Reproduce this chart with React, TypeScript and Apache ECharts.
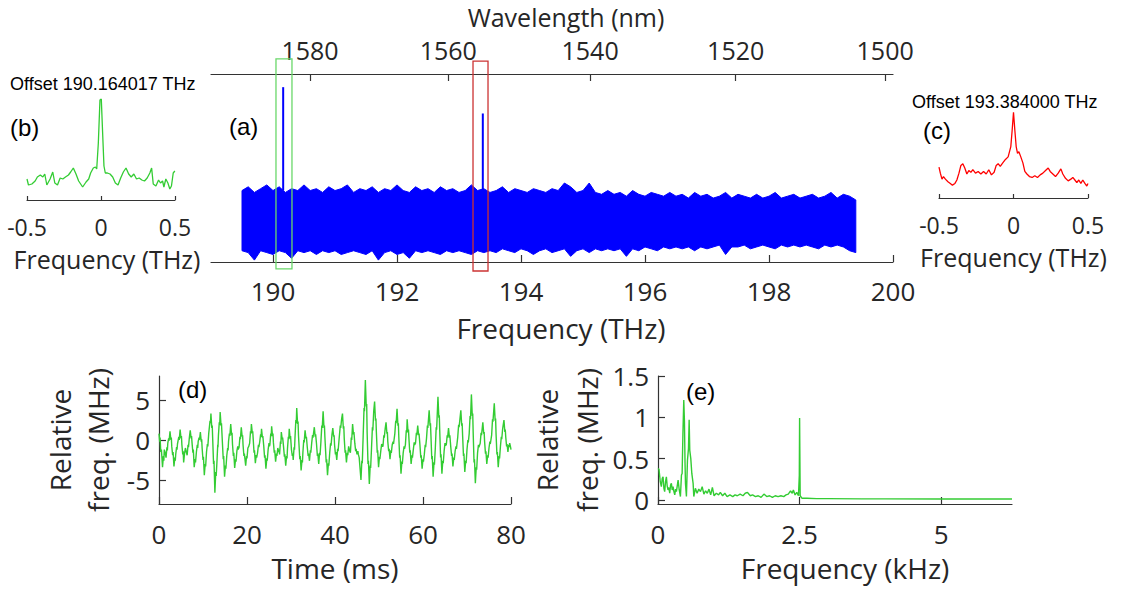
import React, { useEffect, useRef } from "react";
import * as echarts from "echarts";

// speed of light, nm * THz
const C_NM_THZ = 299792.458;

// ---------- (a) comb spectrum (envelope of the dense trace) ----------
const bandStartTHz = 189.5;
const bandStepTHz = 0.1;
const bandUpper = [
  0.38, 0.40, 0.37, 0.39, 0.41, 0.38, 0.40, 0.37, 0.39, 0.38,
  0.41, 0.38, 0.39, 0.37, 0.40, 0.38, 0.39, 0.41, 0.37, 0.39,
  0.38, 0.40, 0.37, 0.39, 0.38, 0.41, 0.38, 0.37, 0.40, 0.38,
  0.39, 0.37, 0.40, 0.38, 0.39, 0.37, 0.38, 0.41, 0.38, 0.39,
  0.37, 0.38, 0.40, 0.37, 0.39, 0.38, 0.37, 0.39, 0.38, 0.37,
  0.39, 0.38, 0.42, 0.40, 0.37, 0.38, 0.42, 0.37, 0.36, 0.38,
  0.36, 0.37, 0.35, 0.38, 0.36, 0.35, 0.37, 0.36, 0.35, 0.37,
  0.35, 0.36, 0.34, 0.37, 0.35, 0.36, 0.34, 0.35, 0.37, 0.34,
  0.36, 0.35, 0.34, 0.36, 0.34, 0.35, 0.37, 0.34, 0.35, 0.36,
  0.34, 0.35, 0.36, 0.34, 0.35, 0.37, 0.34, 0.36, 0.35, 0.33,
];
const bandLower = [
  0.06, 0.05, 0.01, 0.06, 0.05, 0.04, 0.06, 0.05, 0.02, 0.06,
  0.05, 0.06, 0.04, 0.06, 0.05, 0.06, 0.04, 0.05, 0.06, 0.05,
  0.04, 0.06, 0.01, 0.05, 0.06, 0.04, 0.05, 0.02, 0.06, 0.05,
  0.06, 0.05, 0.04, 0.06, 0.05, 0.06, 0.05, 0.04, 0.06, 0.05,
  0.06, 0.05, 0.07, 0.06, 0.05, 0.07, 0.06, 0.04, 0.06, 0.07,
  0.05, 0.06, 0.07, 0.03, 0.06, 0.07, 0.05, 0.07, 0.06, 0.07,
  0.06, 0.07, 0.03, 0.07, 0.06, 0.08, 0.07, 0.06, 0.08, 0.07,
  0.08, 0.07, 0.08, 0.06, 0.08, 0.07, 0.08, 0.09, 0.04, 0.08,
  0.08, 0.09, 0.07, 0.08, 0.09, 0.08, 0.07, 0.09, 0.08, 0.09,
  0.08, 0.09, 0.08, 0.07, 0.09, 0.08, 0.09, 0.08, 0.06, 0.05,
];
const lineFreqs = [190.164017, 193.384];
const lineBase = [0.38, 0.38];
const linePeaks = [0.93, 0.79];
// boxes: [fMin, fMax, yMin, yMax]
const greenBox = [190.048, 190.306, -0.037, 1.08];
const redBox = [193.226, 193.468, -0.048, 1.069];
const freqTicks = [190, 192, 194, 196, 198, 200];
const wavelengthTicks = [1580, 1560, 1540, 1520, 1500];

// ---------- (b) ----------
const bTrace: [number, number][] = [
  [-0.5, 0.21], [-0.49, 0.15], [-0.467, 0.16], [-0.445, 0.19], [-0.43, 0.23], [-0.41, 0.25],
  [-0.393, 0.23], [-0.38, 0.26], [-0.366, 0.15], [-0.344, 0.21], [-0.326, 0.28], [-0.312, 0.17],
  [-0.294, 0.15], [-0.276, 0.22], [-0.258, 0.21], [-0.24, 0.23], [-0.22, 0.25], [-0.205, 0.28],
  [-0.187, 0.32], [-0.169, 0.26], [-0.151, 0.19], [-0.124, 0.13], [-0.101, 0.18], [-0.083, 0.21],
  [-0.07, 0.27], [-0.052, 0.32], [-0.038, 0.33], [-0.029, 0.31], [-0.018, 0.57], [-0.007, 1.0],
  [0.002, 1.01], [0.011, 0.67], [0.02, 0.34], [0.029, 0.27], [0.043, 0.27], [0.061, 0.26],
  [0.079, 0.23], [0.097, 0.17], [0.115, 0.15], [0.133, 0.22], [0.151, 0.28], [0.169, 0.32],
  [0.187, 0.26], [0.204, 0.23], [0.222, 0.26], [0.24, 0.21], [0.258, 0.22], [0.276, 0.2],
  [0.294, 0.19], [0.312, 0.22], [0.33, 0.27], [0.342, 0.32], [0.353, 0.16], [0.371, 0.14],
  [0.389, 0.2], [0.402, 0.17], [0.416, 0.19], [0.425, 0.13], [0.438, 0.21], [0.452, 0.17],
  [0.465, 0.11], [0.476, 0.14], [0.488, 0.27], [0.499, 0.29],
];

// ---------- (c) ----------
const cTrace: [number, number][] = [
  [-0.5, 0.36], [-0.491, 0.29], [-0.48, 0.22], [-0.47, 0.25], [-0.457, 0.22], [-0.44, 0.19],
  [-0.424, 0.17], [-0.41, 0.15], [-0.393, 0.17], [-0.38, 0.21], [-0.366, 0.29], [-0.353, 0.38],
  [-0.34, 0.4], [-0.327, 0.35], [-0.313, 0.28], [-0.3, 0.32], [-0.286, 0.3], [-0.273, 0.33],
  [-0.255, 0.29], [-0.237, 0.31], [-0.219, 0.28], [-0.201, 0.31], [-0.183, 0.28], [-0.166, 0.33],
  [-0.148, 0.27], [-0.13, 0.3], [-0.116, 0.38], [-0.103, 0.4], [-0.089, 0.37], [-0.072, 0.41],
  [-0.054, 0.45], [-0.036, 0.48], [-0.018, 0.6], [-0.009, 0.79], [0, 1.0], [0.009, 0.79],
  [0.018, 0.6], [0.027, 0.52], [0.036, 0.54], [0.049, 0.48], [0.063, 0.41], [0.076, 0.31],
  [0.09, 0.28], [0.107, 0.25], [0.125, 0.24], [0.143, 0.26], [0.161, 0.24], [0.179, 0.27],
  [0.197, 0.29], [0.215, 0.32], [0.233, 0.35], [0.246, 0.31], [0.264, 0.28], [0.282, 0.25],
  [0.3, 0.29], [0.318, 0.34], [0.331, 0.28], [0.349, 0.23], [0.367, 0.2], [0.385, 0.22],
  [0.398, 0.24], [0.412, 0.21], [0.425, 0.18], [0.438, 0.21], [0.452, 0.17], [0.465, 0.21],
  [0.479, 0.17], [0.492, 0.14], [0.5, 0.17],
];

// ---------- (d) relative frequency vs time: [ms, MHz] ----------
const dTrace: [number, number][] = [
  [0.0, 0.8], [0.15, -0.2], [0.25, 0.3], [0.4, -1.5], [0.55, -1.2], [0.8, -3.4], [1.0, -2.0], [1.1, -2.6],
  [1.2, -1.2], [1.4, -1.6], [1.6, -2.2], [1.8, -0.9], [1.9, -1.3], [2.0, -0.4], [2.2, 0.2], [2.3, -0.1],
  [2.5, 1.1], [2.7, 0.0], [2.8, 0.3], [2.9, -0.8], [3.1, -1.9], [3.2, -1.5], [3.4, -3.3], [3.6, -2.2],
  [3.7, -2.6], [3.8, -1.8], [4.0, -0.9], [4.1, -1.2], [4.2, -0.5], [4.5, 0.4], [4.6, 0.0], [4.8, 1.3],
  [5.0, 0.2], [5.1, 0.5], [5.2, -0.6], [5.4, -1.8], [5.5, -1.4], [5.6, -2.8], [5.8, -1.7], [6.0, -1.0],
  [6.2, -1.5], [6.4, -1.9], [6.6, -0.6], [6.7, -0.9], [6.9, 0.3], [7.1, 1.2], [7.3, 0.2], [7.4, 0.5],
  [7.5, -0.3], [7.7, -1.6], [7.8, -1.2], [8.0, -3.4], [8.2, -2.4], [8.3, -2.8], [8.5, -1.5], [8.7, -0.6],
  [8.8, -1.0], [8.9, -0.2], [9.1, 0.3], [9.2, 0.0], [9.4, 1.0], [9.6, -0.2], [9.7, 0.1], [9.8, -1.0],
  [10.0, -2.5], [10.1, -2.1], [10.3, -4.4], [10.5, -3.0], [10.6, -3.3], [10.8, -1.5], [11.0, -0.5], [11.1, -0.8],
  [11.3, 0.8], [11.6, 2.4], [11.7, 2.1], [11.8, 3.3], [12.0, 1.5], [12.1, 1.8], [12.2, 0.2], [12.4, -3.0],
  [12.5, -2.6], [12.7, -6.6], [12.9, -4.0], [13.0, -4.5], [13.2, -2.4], [13.35, -0.6], [13.4, -0.9], [13.5, 0.5],
  [13.7, 2.2], [13.8, 1.9], [13.9, 3.5], [14.1, 1.8], [14.2, 2.1], [14.3, 0.9], [14.6, -2.4], [14.7, -2.0],
  [14.9, -4.6], [15.1, -3.2], [15.2, -3.6], [15.4, -2.0], [15.6, -1.0], [15.7, -1.3], [15.8, -0.2], [16.0, 0.8],
  [16.1, 0.5], [16.3, 2.0], [16.5, 0.6], [16.6, 0.9], [16.7, -0.5], [16.9, -2.0], [17.0, -1.6], [17.2, -3.5],
  [17.4, -2.4], [17.5, -2.7], [17.7, -1.4], [17.9, -0.8], [18.0, -1.2], [18.2, -0.9], [18.4, 0.4], [18.5, 0.1],
  [18.7, 1.6], [18.9, 0.4], [19.0, 0.6], [19.1, -0.6], [19.3, -2.0], [19.4, -1.7], [19.7, -3.2], [19.9, -2.0],
  [20.0, -2.3], [20.2, -1.0], [20.4, -0.8], [20.6, -0.4], [20.8, 1.1], [20.9, 0.8], [21.0, 2.0], [21.2, 0.9],
  [21.3, 1.1], [21.4, 0.2], [21.6, -1.6], [21.7, -1.3], [21.9, -2.9], [22.1, -1.9], [22.2, -2.2], [22.4, -1.6],
  [22.6, -0.6], [22.7, -0.9], [22.9, -0.2], [23.1, 0.7], [23.2, 0.4], [23.3, 1.4], [23.5, 0.3], [23.6, 0.5],
  [23.8, -0.7], [24.0, -2.2], [24.1, -1.9], [24.3, -3.6], [24.5, -2.3], [24.6, -2.6], [24.8, -1.2], [25.0, -0.4],
  [25.1, -0.8], [25.2, -0.6], [25.4, 0.8], [25.5, 0.5], [25.6, 1.7], [25.8, 0.5], [25.9, 0.8], [26.0, -0.3],
  [26.2, -1.6], [26.3, -1.3], [26.5, -2.7], [26.7, -1.7], [26.8, -2.0], [27.0, -1.0], [27.2, -1.5], [27.3, -1.2],
  [27.4, -1.8], [27.6, -0.2], [27.7, -0.5], [27.8, 1.0], [28.0, 0.1], [28.1, 0.3], [28.3, -0.8], [28.5, -2.1],
  [28.6, -1.8], [28.8, -3.2], [29.0, -2.0], [29.1, -2.3], [29.2, -1.1], [29.4, 0.4], [29.5, 0.1], [29.6, 1.4],
  [29.8, 0.2], [29.9, 0.5], [30.1, -1.2], [30.3, -2.0], [30.4, -1.7], [30.5, -2.5], [30.7, -0.9], [30.8, -1.2],
  [30.9, 0.2], [31.1, 2.5], [31.2, 2.1], [31.3, 4.0], [31.5, 2.0], [31.6, 2.3], [31.7, 0.6], [32.0, -2.4],
  [32.1, -2.0], [32.3, -3.8], [32.5, -2.5], [32.6, -2.8], [32.7, -1.6], [32.9, 0.0], [33.0, -0.3], [33.2, 1.2],
  [33.4, 0.2], [33.5, 0.4], [33.7, -0.9], [33.9, -2.0], [34.0, -1.7], [34.2, -2.6], [34.4, -1.3], [34.5, -1.6],
  [34.7, -0.4], [34.9, 0.6], [35.0, 0.3], [35.3, 1.6], [35.5, 0.4], [35.6, 0.7], [35.8, -0.5], [36.0, -2.0],
  [36.1, -1.7], [36.3, -3.0], [36.5, -1.6], [36.6, -1.9], [36.8, -0.2], [37.0, 1.8], [37.1, 1.5], [37.3, 3.6],
  [37.5, 1.5], [37.6, 1.8], [37.7, 0.4], [38.0, -2.8], [38.1, -2.4], [38.3, -4.4], [38.5, -2.9], [38.6, -3.2],
  [38.8, -1.6], [39.0, -0.4], [39.1, -0.7], [39.3, 0.6], [39.5, 1.5], [39.7, 0.4], [39.8, 0.6], [39.9, -0.6],
  [40.1, -1.8], [40.2, -1.5], [40.4, -2.5], [40.6, -1.1], [40.7, -1.4], [40.9, -0.1], [41.2, 1.8], [41.3, 1.5],
  [41.5, 2.6], [41.7, 3.3], [41.9, 1.4], [42.0, 1.7], [42.1, 0.2], [42.3, -1.6], [42.4, -1.3], [42.6, -2.8],
  [42.8, -1.6], [42.9, -1.9], [43.1, -0.8], [43.3, -1.3], [43.5, -1.6], [43.7, 0.3], [43.8, 0.0], [44.0, 2.0],
  [44.2, 0.7], [44.3, 1.0], [44.5, -0.4], [44.7, -1.4], [44.8, -1.1], [45.0, -1.8], [45.2, -1.4], [45.3, -1.8],
  [45.5, -2.2], [45.7, -3.6], [45.9, -5.0], [46.1, -2.6], [46.2, -2.9], [46.4, 0.5], [46.6, 4.0], [46.7, 3.6],
  [46.9, 7.5], [47.1, 4.2], [47.2, 4.5], [47.3, 1.0], [47.5, -3.0], [47.6, -2.6], [47.8, -5.5], [48.0, -3.2],
  [48.1, -3.5], [48.3, -1.0], [48.5, 1.6], [48.6, 1.2], [48.8, 3.6], [49.0, 4.8], [49.2, 2.4], [49.3, 2.7],
  [49.4, 1.0], [49.6, -1.6], [49.7, -1.3], [49.9, -3.4], [50.1, -2.1], [50.2, -2.4], [50.4, -1.4], [50.6, -0.5],
  [50.7, -0.8], [50.9, -0.8], [51.1, 0.6], [51.2, 0.3], [51.4, 1.4], [51.6, 2.2], [51.8, 0.8], [51.9, 1.0],
  [52.0, -0.2], [52.2, -1.4], [52.3, -1.1], [52.5, -2.4], [52.7, -1.3], [52.8, -1.6], [53.0, -0.6], [53.2, -0.2],
  [53.3, -0.5], [53.6, 0.8], [53.8, 2.4], [53.9, 2.1], [54.1, 3.9], [54.3, 1.8], [54.4, 2.1], [54.5, 0.4],
  [54.7, -2.2], [54.8, -1.9], [55.0, -4.2], [55.2, -2.7], [55.3, -3.0], [55.5, -1.6], [55.7, -0.8], [55.8, -1.1],
  [56.0, -0.6], [56.2, 1.2], [56.3, 0.9], [56.4, 2.6], [56.6, 1.0], [56.7, 1.3], [56.8, 0.2], [57.0, -1.6],
  [57.1, -1.3], [57.3, -3.0], [57.5, -1.9], [57.6, -2.2], [57.8, -1.2], [58.0, -0.3], [58.1, -0.6], [58.3, -0.4],
  [58.5, 0.9], [58.6, 0.6], [58.8, 1.8], [59.0, 0.6], [59.1, 0.8], [59.3, -0.6], [59.5, -2.2], [59.6, -1.9],
  [59.8, -3.6], [60.0, -2.4], [60.1, -2.7], [60.3, -1.8], [60.5, -0.6], [60.6, -0.9], [60.8, 0.2], [61.0, 1.8],
  [61.1, 1.5], [61.4, 3.7], [61.6, 1.8], [61.7, 2.1], [61.8, 0.6], [62.0, -2.4], [62.1, -2.0], [62.3, -4.6],
  [62.5, -2.8], [62.6, -3.1], [62.8, -1.0], [63.0, 1.6], [63.1, 1.3], [63.4, 5.4], [63.6, 2.8], [63.7, 3.1],
  [63.8, 1.2], [64.0, -2.2], [64.1, -1.8], [64.3, -4.2], [64.5, -2.6], [64.6, -2.9], [64.8, -1.4], [65.0, -0.4],
  [65.1, -0.7], [65.3, -0.6], [65.5, 0.6], [65.6, 0.3], [65.8, 1.5], [66.0, 0.3], [66.1, 0.6], [66.3, -0.8],
  [66.5, -2.0], [66.6, -1.7], [66.8, -3.3], [67.0, -2.2], [67.1, -2.5], [67.3, -1.4], [67.5, -0.8], [67.6, -1.1],
  [67.9, 0.4], [68.1, 1.9], [68.2, 1.6], [68.6, 3.7], [68.8, 1.8], [68.9, 2.1], [69.0, 0.6], [69.2, -2.0],
  [69.3, -1.7], [69.5, -4.0], [69.7, -2.6], [69.8, -2.9], [70.0, -1.2], [70.2, 0.0], [70.3, -0.3], [70.5, 0.8],
  [70.7, 3.0], [70.8, 2.6], [71.0, 5.7], [71.2, 3.0], [71.3, 3.3], [71.4, 1.0], [71.6, -2.8], [71.7, -2.4],
  [71.9, -5.4], [72.1, -3.4], [72.2, -3.7], [72.4, -1.6], [72.6, -0.6], [72.7, -0.9], [73.0, -0.4], [73.2, 0.9],
  [73.3, 0.6], [73.6, 2.2], [73.8, 0.8], [73.9, 1.0], [74.0, -0.2], [74.2, -1.7], [74.3, -1.4], [74.5, -3.0],
  [74.7, -1.9], [74.8, -2.2], [75.0, -1.0], [75.2, -0.2], [75.3, -0.5], [75.6, 0.6], [75.8, 2.6], [75.9, 2.3],
  [76.2, 4.6], [76.4, 2.4], [76.5, 2.7], [76.6, 0.8], [76.8, -1.8], [76.9, -1.5], [77.1, -3.4], [77.3, -2.0],
  [77.4, -2.3], [77.6, -0.8], [77.8, 0.4], [77.9, 0.1], [78.1, 1.4], [78.4, 2.5], [78.6, 1.0], [78.7, 1.3],
  [78.8, 0.4], [79.0, -0.8], [79.1, -0.5], [79.3, -1.5], [79.5, -0.6], [79.6, -0.9], [79.7, -0.4], [79.9, -0.9],
  [80.0, -1.2],
];

// ---------- (e) spectrum of relative frequency: [kHz, MHz] ----------
const eTrace: [number, number][] = [
  [0.0, 0.38], [0.018, 0.37], [0.04, 0.22], [0.059, 0.16], [0.075, 0.26], [0.089, 0.28],
  [0.104, 0.14], [0.118, 0.1], [0.133, 0.22], [0.148, 0.28], [0.162, 0.17], [0.177, 0.12],
  [0.192, 0.15], [0.207, 0.08], [0.222, 0.18], [0.236, 0.2], [0.251, 0.12], [0.266, 0.16],
  [0.281, 0.1], [0.296, 0.06], [0.31, 0.13], [0.325, 0.1], [0.34, 0.17], [0.355, 0.24],
  [0.375, 0.12], [0.396, 0.04], [0.414, 0.3], [0.426, 0.32], [0.44, 0.8], [0.455, 1.21],
  [0.467, 0.95], [0.477, 0.45], [0.485, 0.2], [0.502, 0.04], [0.52, 0.48], [0.538, 0.62],
  [0.55, 0.97], [0.561, 0.6], [0.579, 0.5], [0.597, 0.32], [0.62, 0.2], [0.632, 0.04],
  [0.66, 0.14], [0.69, 0.08], [0.72, 0.13], [0.75, 0.1], [0.78, 0.16], [0.81, 0.07],
  [0.84, 0.11], [0.87, 0.08], [0.9, 0.13], [0.93, 0.06], [0.96, 0.15], [0.99, 0.05],
  [1.03, 0.08], [1.07, 0.06], [1.1, 0.09], [1.14, 0.05], [1.18, 0.08], [1.22, 0.04],
  [1.27, 0.06], [1.32, 0.04], [1.36, 0.06], [1.4, 0.05], [1.45, 0.07], [1.5, 0.05],
  [1.54, 0.08], [1.58, 0.09], [1.63, 0.05], [1.67, 0.06], [1.72, 0.04], [1.77, 0.05],
  [1.82, 0.03], [1.87, 0.07], [1.92, 0.04], [1.97, 0.05], [2.02, 0.03], [2.07, 0.05],
  [2.12, 0.04], [2.17, 0.05], [2.22, 0.04], [2.26, 0.06], [2.3, 0.07], [2.34, 0.11],
  [2.37, 0.08], [2.39, 0.12], [2.42, 0.06], [2.45, 0.09], [2.48, 0.05], [2.495, 0.3],
  [2.5, 0.99], [2.51, 0.05], [2.54, 0.02], [2.63, 0.02], [2.8, 0.015], [3.0, 0.015],
  [3.6, 0.012], [4.0, 0.012], [5.0, 0.011], [6.25, 0.01],
];

const dTicksY = [-5, 0, 5];
const eTicksY = [0, 0.5, 1, 1.5];
const eTicksX = [0, 2.5, 5];

const TXT = "#262626";
const AX = "#333333";
const GREEN = "#33cc33";
const FONT = "'Open Sans', 'Noto Sans', sans-serif";
const ARIAL = "'Liberation Sans', Arial, sans-serif";

export default function App() {
  const ref = useRef<HTMLDivElement>(null);

  useEffect(() => {
    document.body.style.margin = "0";
    if (!ref.current) return;
    const chart = echarts.init(ref.current, undefined, { renderer: "svg" });

    const bandX = bandUpper.map((_, i) => bandStartTHz + i * bandStepTHz);

    const axisLine = { show: true, onZero: false, lineStyle: { color: AX, width: 1.2 } };
    const tickStyle = (len: number) => ({
      show: true,
      inside: true,
      length: len,
      lineStyle: { color: AX, width: 1.2 },
    });
    const lbl = (size: number, margin: number) => ({
      color: TXT,
      fontSize: size,
      fontFamily: FONT,
      margin,
    });
    const nameStyle = (size: number) => ({ color: TXT, fontSize: size, fontFamily: FONT });

    const option: any = {
      animation: false,
      backgroundColor: "#ffffff",
      grid: [
        { left: 211, top: 74, width: 682, height: 188 },
        { left: 27, top: 95, width: 148, height: 105 },
        { left: 939, top: 108, width: 149, height: 90 },
        { left: 159, top: 376, width: 352, height: 128 },
        { left: 658, top: 376, width: 354, height: 128 },
      ],
      xAxis: [
        {
          gridIndex: 0,
          type: "value",
          position: "bottom",
          min: 189,
          max: 200,
          axisLine,
          axisTick: { ...tickStyle(7), customValues: freqTicks },
          axisLabel: { ...lbl(26, 16), customValues: freqTicks },
          splitLine: { show: false },
          name: "Frequency (THz)",
          nameLocation: "middle",
          nameGap: 52,
          nameTextStyle: { ...nameStyle(28), padding: [0, 0, 0, 18] },
        },
        {
          gridIndex: 0,
          type: "value",
          position: "top",
          min: 188,
          max: 200,
          axisLine,
          axisTick: { ...tickStyle(7), customValues: wavelengthTicks.map((w) => C_NM_THZ / w) },
          axisLabel: {
            ...lbl(25, 12),
            lineHeight: 25,
            customValues: wavelengthTicks.map((w) => C_NM_THZ / w),
            formatter: (v: number) => String(Math.round(C_NM_THZ / v)),
          },
          splitLine: { show: false },
          name: "Wavelength (nm)",
          nameLocation: "middle",
          nameGap: 45,
          nameTextStyle: { ...nameStyle(25), lineHeight: 24, padding: [0, 0, 0, 28] },
        },
        {
          gridIndex: 1,
          type: "value",
          min: -0.5,
          max: 0.5,
          interval: 0.5,
          axisLine,
          axisTick: tickStyle(4),
          axisLabel: lbl(23, 15),
          splitLine: { show: false },
          name: "Frequency (THz)",
          nameLocation: "middle",
          nameGap: 46,
          nameTextStyle: { ...nameStyle(25), padding: [0, 0, 0, 12] },
        },
        {
          gridIndex: 2,
          type: "value",
          min: -0.5,
          max: 0.5,
          interval: 0.5,
          axisLine,
          axisTick: tickStyle(4),
          axisLabel: lbl(23, 15),
          splitLine: { show: false },
          name: "Frequency (THz)",
          nameLocation: "middle",
          nameGap: 46,
          nameTextStyle: nameStyle(25),
        },
        {
          gridIndex: 3,
          type: "value",
          min: 0,
          max: 80,
          interval: 20,
          axisLine,
          axisTick: tickStyle(7),
          axisLabel: lbl(26, 17),
          splitLine: { show: false },
          name: "Time (ms)",
          nameLocation: "middle",
          nameGap: 50,
          nameTextStyle: nameStyle(28),
        },
        {
          gridIndex: 4,
          type: "value",
          min: 0,
          max: 6.25,
          axisLine,
          axisTick: { ...tickStyle(7), customValues: eTicksX },
          axisLabel: { ...lbl(26, 17), customValues: eTicksX },
          splitLine: { show: false },
          name: "Frequency (kHz)",
          nameLocation: "middle",
          nameGap: 50,
          nameTextStyle: { ...nameStyle(28), padding: [0, 0, 0, 20] },
        },
      ],
      yAxis: [
        { gridIndex: 0, type: "value", min: 0, max: 1, show: false },
        { gridIndex: 1, type: "value", min: 0, max: 1.05, show: false },
        { gridIndex: 2, type: "value", min: 0, max: 1.05, show: false },
        {
          gridIndex: 3,
          type: "value",
          min: -8,
          max: 8,
          axisLine,
          axisTick: { ...tickStyle(7), customValues: dTicksY },
          axisLabel: { ...lbl(26, 9), customValues: dTicksY },
          splitLine: { show: false },
          name: "Relative\nfreq. (MHz)",
          nameLocation: "middle",
          nameRotate: 90,
          nameGap: 42,
          nameTextStyle: { ...nameStyle(28), lineHeight: 38 },
        },
        {
          gridIndex: 4,
          type: "value",
          min: -0.05,
          max: 1.5,
          axisLine,
          axisTick: { ...tickStyle(7), customValues: eTicksY },
          axisLabel: { ...lbl(26, 9), customValues: eTicksY },
          splitLine: { show: false },
          name: "Relative\nfreq. (MHz)",
          nameLocation: "middle",
          nameRotate: 90,
          nameGap: 51,
          nameTextStyle: { ...nameStyle(28), lineHeight: 40 },
        },
      ],
      series: [
        {
          type: "custom",
          xAxisIndex: 0,
          yAxisIndex: 0,
          data: [[bandStartTHz, 0]],
          renderItem: (_params: any, api: any) => {
            const top = bandX.map((x, i) => api.coord([x, bandUpper[i]]));
            const bot = bandX.map((x, i) => api.coord([x, bandLower[i]])).reverse();
            return {
              type: "polygon",
              shape: { points: top.concat(bot) },
              style: { fill: "#0000ff", stroke: "#0000ff", lineWidth: 1 },
            };
          },
        },
        ...lineFreqs.map((f, i) => ({
          type: "line",
          xAxisIndex: 0,
          yAxisIndex: 0,
          data: [
            [f, lineBase[i]],
            [f, linePeaks[i]],
          ],
          symbol: "none",
          lineStyle: { color: "#0000ff", width: 2 },
        })),
        {
          type: "line",
          xAxisIndex: 2,
          yAxisIndex: 1,
          data: bTrace,
          symbol: "none",
          lineStyle: { color: GREEN, width: 1.3 },
        },
        {
          type: "line",
          xAxisIndex: 3,
          yAxisIndex: 2,
          data: cTrace,
          symbol: "none",
          lineStyle: { color: "#ff0000", width: 1.3 },
        },
        {
          type: "line",
          xAxisIndex: 4,
          yAxisIndex: 3,
          data: dTrace,
          symbol: "none",
          lineStyle: { color: GREEN, width: 1.4 },
        },
        {
          type: "line",
          xAxisIndex: 5,
          yAxisIndex: 4,
          data: eTrace,
          symbol: "none",
          lineStyle: { color: GREEN, width: 1.4 },
        },
      ],
    };
    chart.setOption(option);

    const boxRect = (b: number[], color: string) => {
      const p1 = chart.convertToPixel({ xAxisIndex: 0, yAxisIndex: 0 }, [b[0], b[3]]) as number[];
      const p2 = chart.convertToPixel({ xAxisIndex: 0, yAxisIndex: 0 }, [b[1], b[2]]) as number[];
      return {
        type: "rect",
        shape: { x: p1[0], y: p1[1], width: p2[0] - p1[0], height: p2[1] - p1[1] },
        style: { fill: "none", stroke: color, lineWidth: 1.3 },
        z: 100,
      };
    };
    const txt = (text: string, x: number, y: number, size: number) => ({
      type: "text",
      x,
      y,
      style: { text, fill: "#000", fontSize: size, fontFamily: ARIAL, verticalAlign: "middle" },
      z: 100,
    });

    chart.setOption({
      graphic: [
        boxRect(greenBox, "#6ad86a"),
        boxRect(redBox, "#cc3333"),
        txt("Offset 190.164017 THz", 10, 84, 18),
        txt("Offset 193.384000 THz", 912, 102, 18),
        txt("(a)", 229, 126, 24),
        txt("(b)", 10, 127, 24),
        txt("(c)", 923, 130, 24),
        txt("(d)", 178, 389, 24),
        txt("(e)", 686, 391, 24),
      ],
    });

    return () => chart.dispose();
  }, []);

  return <div ref={ref} style={{ width: 1123, height: 590 }} />;
}
